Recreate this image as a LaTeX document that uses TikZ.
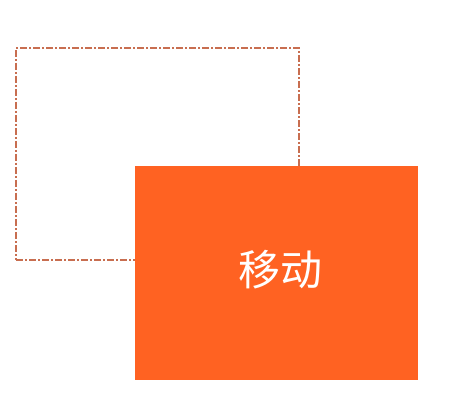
\documentclass[tikz,border=0pt]{standalone}
\usepackage{fontspec}
\usepackage{tikz}
\newfontfamily\cjk{Noto Sans CJK SC}
\definecolor{moveorange}{RGB}{255,98,34}
\definecolor{ghostline}{RGB}{200,110,80}

\begin{document}
\begin{tikzpicture}[
    x=1pt, y=-1pt,
    ghost/.style={draw=ghostline, line width=1.4pt, dash pattern=on 7pt off 2pt on 2pt off 2pt, minimum width=283pt, minimum height=212pt, inner sep=0pt},
    movebox/.style={fill=moveorange, draw=none, minimum width=283pt, minimum height=214pt, inner sep=0pt, font=\cjk\fontsize{42}{50}\selectfont, text=white}
]
    \useasboundingbox (0,0) rectangle (476,406);
    % Original position
    \node[ghost] (origin) at (157.5,154) {};
    % Moved box
    \node[movebox] (moved) at (276.5,273) {};
    \node[font=\cjk\fontsize{42}{50}\selectfont, text=white, inner sep=0pt] (movelabel) at ([xshift=4pt,yshift=3pt]moved.center) {移动};
\end{tikzpicture}
\end{document}
